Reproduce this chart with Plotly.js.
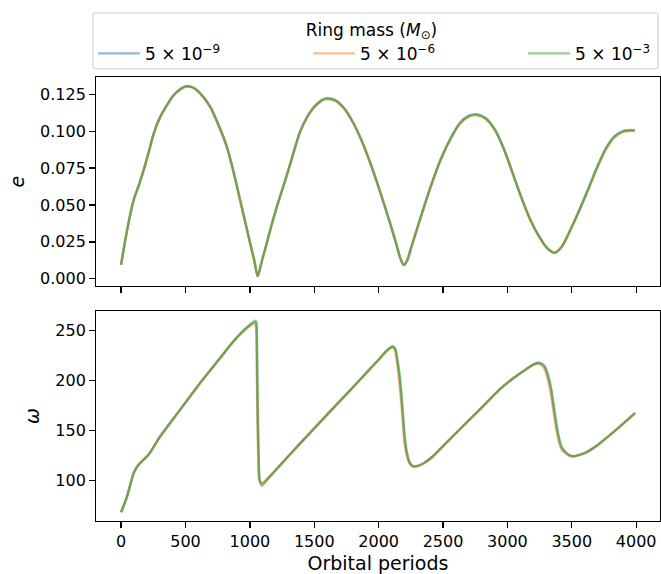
<!DOCTYPE html>
<html>
<head>
<meta charset="utf-8">
<script src="https://cdn.plot.ly/plotly-3.0.1.min.js"></script>
<style>html,body{margin:0;padding:0;background:#fff;}#chart{width:661px;height:574px;}</style>
</head>
<body>
<div id="chart"></div>
<script>
// ---- data ----
const ringMassLabels = ["5 × 10<sup>−9</sup>", "5 × 10<sup>−6</sup>", "5 × 10<sup>−3</sup>"];
const seriesColors = ["rgba(31,119,180,0.5)", "rgba(255,127,14,0.5)", "rgba(44,160,44,0.5)"];

const periodsE = [0,30,60,98,140,175,215,253,300,356,400,434,470,506,550,589,640,692,750,821,870,924,965,1002,1035,1061,1090,1131,1180,1234,1290,1337,1389,1450,1520,1590,1660,1730,1800,1870,1940,2010,2080,2140,2170,2195,2222,2250,2320,2400,2474,2550,2630,2700,2758,2830,2900,2970,3041,3110,3180,3248,3310,3365,3420,3490,3558,3630,3700,3765,3830,3900,3960,3990];

const eMass9 = [0.0095,0.025,0.039,0.0534,0.064,0.0736,0.086,0.0984,0.109,0.1176,0.1235,0.1266,0.129,0.1304,0.1298,0.1277,0.123,0.1164,0.1055,0.0894,0.0735,0.0534,0.038,0.0241,0.012,0.0018,0.011,0.0241,0.040,0.0556,0.071,0.0849,0.0995,0.1105,0.1185,0.1222,0.1212,0.1158,0.1062,0.0932,0.0772,0.0592,0.040,0.0225,0.0135,0.0092,0.0125,0.0205,0.040,0.0615,0.0793,0.0938,0.1055,0.1105,0.1115,0.109,0.1015,0.0885,0.0714,0.0545,0.0395,0.0282,0.0205,0.0175,0.0215,0.0335,0.0466,0.0615,0.0765,0.0885,0.0965,0.1002,0.1008,0.1007];

const eMass6 = [0.0095,0.025,0.039,0.0534,0.064,0.0736,0.086,0.0984,0.109,0.1176,0.1235,0.1266,0.129,0.1304,0.1298,0.1277,0.123,0.1164,0.1055,0.0894,0.0735,0.0534,0.038,0.0241,0.012,0.0018,0.011,0.0241,0.040,0.0556,0.0708,0.0846,0.0990,0.1100,0.1178,0.1215,0.1205,0.1152,0.1057,0.0928,0.0770,0.0592,0.0402,0.0228,0.0138,0.0095,0.0125,0.0203,0.0396,0.0610,0.0787,0.0931,0.1047,0.1097,0.1107,0.1083,0.1010,0.0882,0.0713,0.0546,0.0397,0.0285,0.0209,0.0180,0.0217,0.0333,0.0460,0.0607,0.0755,0.0875,0.0955,0.0995,0.1003,0.1002];

const eMass3 = [0.0095,0.025,0.039,0.0534,0.064,0.0736,0.086,0.0984,0.109,0.1176,0.1235,0.1266,0.129,0.1304,0.1298,0.1277,0.123,0.1164,0.1055,0.0894,0.0735,0.0534,0.038,0.0241,0.012,0.0018,0.011,0.0241,0.040,0.0556,0.0710,0.0849,0.0994,0.1104,0.1183,0.1220,0.1210,0.1157,0.1062,0.0933,0.0774,0.0594,0.0402,0.0226,0.0136,0.0093,0.0124,0.0204,0.0399,0.0613,0.0791,0.0935,0.1052,0.1102,0.1112,0.1088,0.1014,0.0886,0.0716,0.0547,0.0396,0.0283,0.0206,0.0176,0.0213,0.0331,0.0462,0.0611,0.0761,0.0881,0.0961,0.0999,0.1005,0.1004];

const periodsW = [0,46,98,137,214,304,450,614,750,872,960,1027,1045,1052,1058,1066,1074,1092,1157,1250,1389,1520,1647,1780,1906,2000,2060,2086,2110,2130,2150,2164,2180,2202,2222,2241,2265,2293,2340,2422,2550,2680,2800,2938,3041,3140,3200,3235,3265,3290,3315,3339,3365,3390,3420,3455,3490,3519,3600,3688,3800,3900,3992];

const wMass9 = [68.3,84,107.7,116,126,144.3,169.5,197.7,219.6,239.3,251,258,258.5,250,181,130,101,96.5,104.5,117.5,137,155,172.5,190.5,208,221,229.5,232.5,234,231,215,201,178,141,125,117.7,114.5,114.3,116.5,124.3,141,157.7,173,191,202,211,216,217.7,216.5,213.5,204,191,168,147.7,133,127.7,124.8,124.3,127.5,134.3,146,157,167.7];

const wMass6 = [68.3,84,107.7,116,126,144.3,169.5,197.7,219.6,239.3,250.5,256.5,255,230,160,118,99,97,104.5,117.5,137,155,172.5,190.5,208,221,229,232,233,228,210,193,170,136,123,117,114.3,114.3,116.5,124.3,141,157.7,173,191,202,211,215.5,217,215.5,211,200,185,162,144,131,127,124.5,124.3,127.5,134.3,146,157,167.3];

const wMass3 = [68.3,84,107.7,116,126,144.3,169.5,197.7,219.6,239.3,251.5,258.8,260,258,205,140,104,94.5,104,117.5,137,155,172.5,190.5,208,221,229.8,232.8,234.5,232,218,205,183,145,127,118,114.6,114.3,116.5,124.3,141,157.7,173,191,202,211,216.2,218,217,214.5,206,193,171,150,134,128,124.9,124.3,127.5,134.3,146,157,167.7];

const eSeries = [eMass9, eMass6, eMass3];
const wSeries = [wMass9, wMass6, wMass3];
const legendWidths = [158, 158, 70];

// ---- traces ----
const traces = [];
for (let i = 0; i < 3; i++) {
  traces.push({
    x: periodsE, y: eSeries[i], xaxis: 'x', yaxis: 'y', type: 'scatter', mode: 'lines',
    name: ringMassLabels[i], legendgroup: 'g' + i, showlegend: true, legendwidth: legendWidths[i],
    line: {color: seriesColors[i], width: 2.4, shape: 'spline', smoothing: 0.8}
  });
}
for (let i = 0; i < 3; i++) {
  traces.push({
    x: periodsW, y: wSeries[i], xaxis: 'x2', yaxis: 'y2', type: 'scatter', mode: 'lines',
    name: ringMassLabels[i], legendgroup: 'g' + i, showlegend: false,
    line: {color: seriesColors[i], width: 2.4, shape: 'spline', smoothing: 0.5}
  });
}

const axisCommon = {
  showline: true, mirror: true, linecolor: '#000', linewidth: 1.3,
  ticks: 'outside', ticklen: 5.6, tickwidth: 1.3, tickcolor: '#000',
  showgrid: false, zeroline: false
};

const layout = {
  width: 661, height: 574,
  margin: {l: 96, r: 1, t: 77, b: 52.5, pad: 0},
  paper_bgcolor: '#fff', plot_bgcolor: '#fff',
  font: {family: 'DejaVu Sans', size: 16, color: '#000'},
  showlegend: true,
  legend: {
    orientation: 'h', x: -0.0053, xanchor: 'left', y: 1.1426, yanchor: 'top',
    title: {text: 'Ring mass (<i>M</i><sub>⊙</sub>)', side: 'top center', font: {size: 17}},
    font: {size: 17}, bgcolor: 'rgba(0,0,0,0)', borderwidth: 0,
    tracegroupgap: 0, itemwidth: 42
  },
  xaxis: Object.assign({}, axisCommon, {anchor: 'y', domain: [0, 1], range: [-195, 4185], dtick: 500, tick0: 0, showticklabels: false, matches: 'x2'}),
  xaxis2: Object.assign({}, axisCommon, {anchor: 'y2', domain: [0, 1], range: [-195, 4185], dtick: 500, tick0: 0,
    title: {text: 'Orbital periods', standoff: 6}}),
  yaxis: Object.assign({}, axisCommon, {anchor: 'x', domain: [0.529, 1], range: [-0.005, 0.1367], dtick: 0.025, tick0: 0, tickformat: '.3f',
    title: {text: '<i>e</i>', standoff: 10}}),
  yaxis2: Object.assign({}, axisCommon, {anchor: 'x2', domain: [0, 0.4724], range: [59.5, 269.5], dtick: 50, tick0: 0,
    title: {text: '<i>ω</i>', standoff: 10}}),
  shapes: [{
    type: 'path', xref: 'paper', yref: 'paper',
    path: 'M -0.0018,1.1440 L 0.9929,1.1440 Q 0.9965,1.1440 0.9965,1.1395 L 0.9965,1.0235 Q 0.9965,1.0190 0.9929,1.0190 L -0.0018,1.0190 Q -0.0054,1.0190 -0.0054,1.0235 L -0.0054,1.1395 Q -0.0054,1.1440 -0.0018,1.1440 Z',
    line: {color: 'rgba(204,204,204,0.8)', width: 1.3}, fillcolor: 'rgba(255,255,255,0.8)', layer: 'below'
  }]
};

Plotly.newPlot('chart', traces, layout, {displayModeBar: false, staticPlot: true});
</script>
</body>
</html>
